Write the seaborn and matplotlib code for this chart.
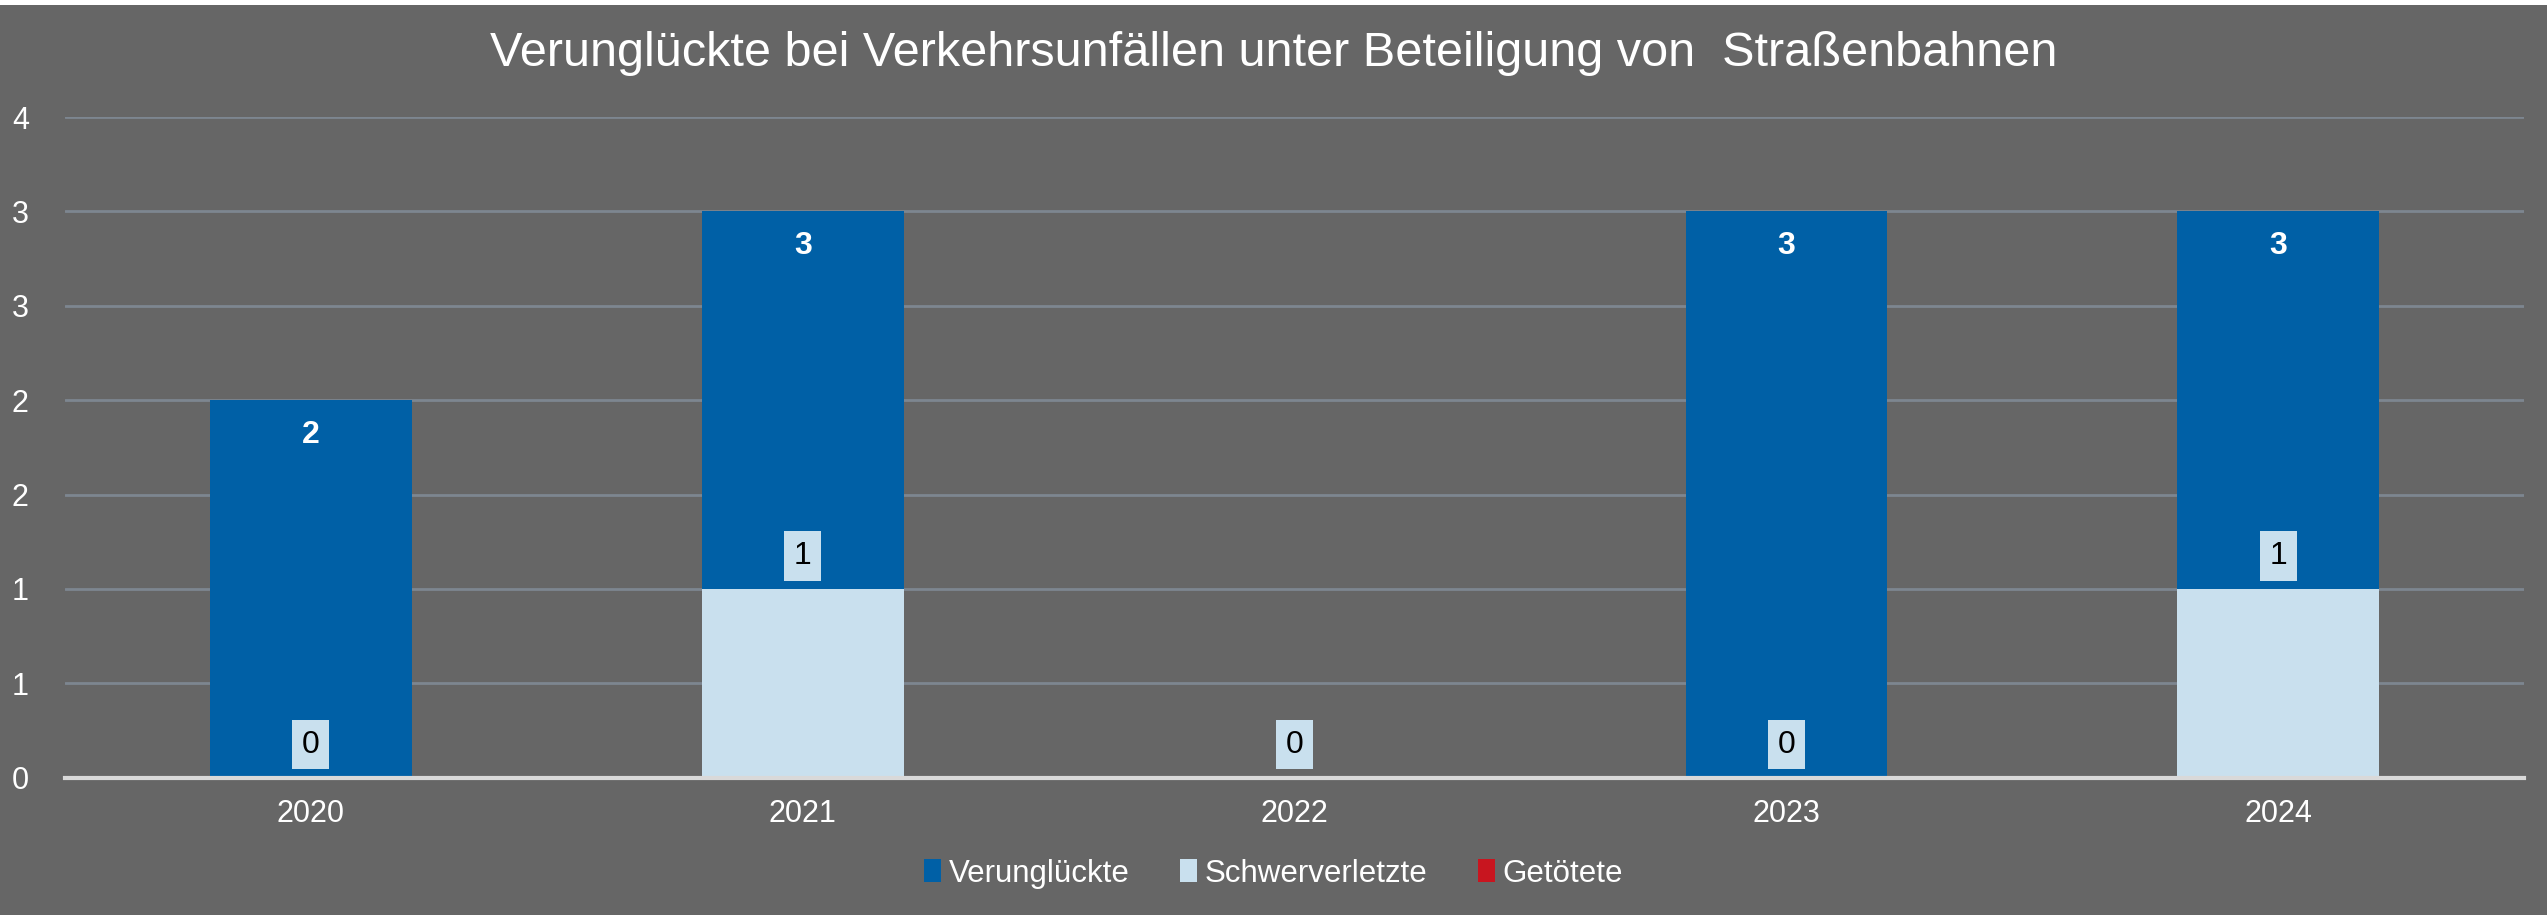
import matplotlib
matplotlib.use("Agg")
import matplotlib.pyplot as plt
import seaborn as sns
import pandas as pd
from matplotlib.patches import Rectangle

# data
years = ["2020", "2021", "2022", "2023", "2024"]
verunglueckte = [2, 3, 0, 3, 3]
schwerverletzte = [0, 1, 0, 0, 1]
getoetete = [0, 0, 0, 0, 0]
series_names = ["Verunglückte", "Schwerverletzte", "Getötete"]
y_ticks = [0, 0.5, 1, 1.5, 2, 2.5, 3, 3.5]
y_tick_labels = ["0", "1", "1", "2", "2", "3", "3", "4"]

colors = ["#0060A6", "#C9E0EE", "#C8151F"]
bg = "#666666"

df = pd.DataFrame({
    "Jahr": years * 3,
    "Anzahl": verunglueckte + schwerverletzte + getoetete,
    "Kategorie": [series_names[0]] * 5 + [series_names[1]] * 5 + [series_names[2]] * 5,
})

sns.set_theme(style="white")
plt.rcParams["font.family"] = ["Liberation Sans", "DejaVu Sans"]

fig = plt.figure(figsize=(25.47, 9.15), dpi=100, facecolor=bg)
ax = fig.add_axes([0.0255, 0.150, 0.9655, 0.722])
ax.set_facecolor(bg)

# overlapping bars (Excel overlap 100%)
sns.barplot(data=df, x="Jahr", y="Anzahl", hue="Kategorie", hue_order=series_names,
            palette=colors, dodge=False, width=0.41, saturation=1, ax=ax,
            linewidth=0, zorder=3)

ax.set_xlim(-0.5, 4.5)
ax.set_ylim(0, 3.5)
ax.set_yticks(y_ticks)
ax.set_yticklabels(y_tick_labels)
ax.set_xlabel("")
ax.set_ylabel("")
ax.tick_params(axis="y", colors="white", labelsize=22, length=0, pad=26)
ax.tick_params(axis="x", colors="white", labelsize=22, length=0, pad=15)
ax.grid(axis="y", color="#7D8690", linewidth=2, zorder=0)
ax.set_axisbelow(True)
for s in ["top", "right", "left"]:
    ax.spines[s].set_visible(False)
ax.spines["bottom"].set_color("#D9D9D9")
ax.spines["bottom"].set_linewidth(3)
ax.spines["bottom"].set_zorder(5)

# data labels
cont_v, cont_s = ax.containers[0], ax.containers[1]
ax.bar_label(cont_v, labels=[str(v) if v > 0 else "" for v in verunglueckte],
             label_type="edge", padding=-36, color="white", fontsize=23,
             fontweight="bold", zorder=6)
ax.bar_label(cont_s, labels=[str(v) for v in schwerverletzte],
             label_type="edge", padding=13, color="black", fontsize=23,
             bbox=dict(boxstyle="square,pad=0.3", facecolor="#C9E0EE", edgecolor="none"),
             zorder=6)

ax.legend_.remove()
handles = [Rectangle((0, 0), 1, 1, facecolor=c, edgecolor="none") for c in colors]
leg = fig.legend(handles, series_names, loc="center", bbox_to_anchor=(0.5, 0.045),
                 ncol=3, frameon=False, fontsize=22.5, handlelength=0.55,
                 handleheight=0.75, handletextpad=0.25, columnspacing=1.6)
for t in leg.get_texts():
    t.set_color("white")

fig.text(0.5, 0.941, "Verunglückte bei Verkehrsunfällen unter Beteiligung von  Straßenbahnen",
         ha="center", va="center", color="white", fontsize=35)

# thin white strip at top edge
fig.patches.append(Rectangle((0, 1 - 5 / 915), 1, 5 / 915, transform=fig.transFigure,
                             facecolor="white", edgecolor="none", figure=fig))

fig.savefig("out.png", dpi=100, facecolor=bg)
